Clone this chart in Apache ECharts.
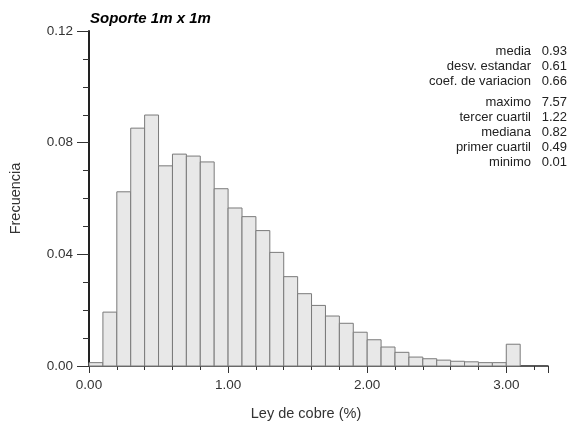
<!DOCTYPE html>
<html>
<head>
<meta charset="UTF-8">
<title>Soporte 1m x 1m</title>
<script src="https://cdn.jsdelivr.net/npm/echarts@6/dist/echarts.min.js"></script>
<style>
  html, body { margin: 0; padding: 0; background: #fff; }
  #chart { width: 570px; height: 428px; }
</style>
</head>
<body>
<div id="chart"></div>
<script>
// bordes de las clases (ley de cobre, %)
var binEdges = [0.0, 0.1, 0.2, 0.3, 0.4, 0.5, 0.6, 0.7, 0.8, 0.9, 1.0,
                1.1, 1.2, 1.3, 1.4, 1.5, 1.6, 1.7, 1.8, 1.9, 2.0,
                2.1, 2.2, 2.3, 2.4, 2.5, 2.6, 2.7, 2.8, 2.9, 3.0, 3.1];
// frecuencia de cada clase
var frecuencia = [0.0012, 0.0193, 0.0624, 0.0852, 0.0899, 0.0717, 0.0759, 0.0752, 0.0731, 0.0635,
                  0.0566, 0.0535, 0.0485, 0.0407, 0.0320, 0.0259, 0.0217, 0.0179, 0.0153, 0.0121,
                  0.0094, 0.0068, 0.0049, 0.0032, 0.0026, 0.0021, 0.0017, 0.0015, 0.0012, 0.0012,
                  0.0078];
var yTicks = [0.00, 0.04, 0.08, 0.12];
var xTicks = [0.00, 1.00, 2.00, 3.00];

var statLabels = ['media', 'desv. estandar', 'coef. de variacion',
                  'maximo', 'tercer cuartil', 'mediana', 'primer cuartil', 'minimo'];
var statValues = ['0.93', '0.61', '0.66', '7.57', '1.22', '0.82', '0.49', '0.01'];
var statRows   = [51, 66, 81, 102, 117, 132, 147, 162];

var data = [];
for (var i = 0; i < frecuencia.length; i++) {
    data.push([binEdges[i], binEdges[i + 1], frecuencia[i]]);
}

var font = '"Liberation Sans", Arial, Helvetica, sans-serif';

var graphics = [];
for (var j = 0; j < statLabels.length; j++) {
    graphics.push({
        type: 'text', x: 531, y: statRows[j],
        style: { text: statLabels[j], align: 'right', verticalAlign: 'middle',
                 font: '13px ' + font, fill: '#222' }
    });
    graphics.push({
        type: 'text', x: 567, y: statRows[j],
        style: { text: statValues[j], align: 'right', verticalAlign: 'middle',
                 font: '13px ' + font, fill: '#222' }
    });
}

var chart = echarts.init(document.getElementById('chart'));
var option = {
    animation: false,
    backgroundColor: '#fff',
    title: {
        text: 'Soporte 1m x 1m',
        left: 85, top: 6,
        textStyle: { fontFamily: font, fontSize: 15, fontStyle: 'italic', fontWeight: 'bold', color: '#000' }
    },
    grid: { left: 89, right: 22, top: 31, bottom: 62 },
    xAxis: {
        type: 'value',
        min: 0, max: 3.3, interval: 1,
        name: 'Ley de cobre (%)',
        nameLocation: 'middle',
        nameGap: 40,
        nameTextStyle: { fontFamily: font, fontSize: 14.5, color: '#333', padding: [0, 25, 0, 0] },
        axisLine: { lineStyle: { color: '#222', width: 1.5 } },
        axisTick: { length: 7, lineStyle: { color: '#333' } },
        minorTick: { show: true, splitNumber: 5, length: 4, lineStyle: { color: '#333' } },
        splitLine: { show: false },
        axisLabel: {
            margin: 12, fontFamily: font, fontSize: 13.5, color: '#333', showMaxLabel: false,
            formatter: function (v) { return xTicks.indexOf(v) >= 0 ? v.toFixed(2) : ''; }
        }
    },
    yAxis: {
        type: 'value',
        min: 0, max: 0.12, interval: 0.04,
        name: 'Frecuencia',
        nameLocation: 'middle',
        nameGap: 66,
        nameRotate: 90,
        nameTextStyle: { fontFamily: font, fontSize: 14.5, color: '#333' },
        axisLine: { show: true, lineStyle: { color: '#222', width: 2 } },
        axisTick: { show: true, length: 12, lineStyle: { color: '#333' } },
        minorTick: { show: true, splitNumber: 4, length: 6, lineStyle: { color: '#333' } },
        splitLine: { show: false },
        axisLabel: {
            margin: 16, fontFamily: font, fontSize: 13.5, color: '#333',
            formatter: function (v) { return yTicks.indexOf(Math.round(v * 100) / 100) >= 0 ? v.toFixed(2) : ''; }
        }
    },
    graphic: graphics,
    series: [{
        type: 'custom',
        data: data,
        encode: { x: [0, 1], y: 2 },
        renderItem: function (params, api) {
            var p0 = api.coord([api.value(0), api.value(2)]);
            var p1 = api.coord([api.value(1), 0]);
            return {
                type: 'rect',
                shape: { x: p0[0], y: p0[1], width: p1[0] - p0[0], height: p1[1] - p0[1] },
                style: { fill: '#e8e8e8', stroke: '#7a7a7a', lineWidth: 1 }
            };
        }
    }]
};
chart.setOption(option);
</script>
</body>
</html>
